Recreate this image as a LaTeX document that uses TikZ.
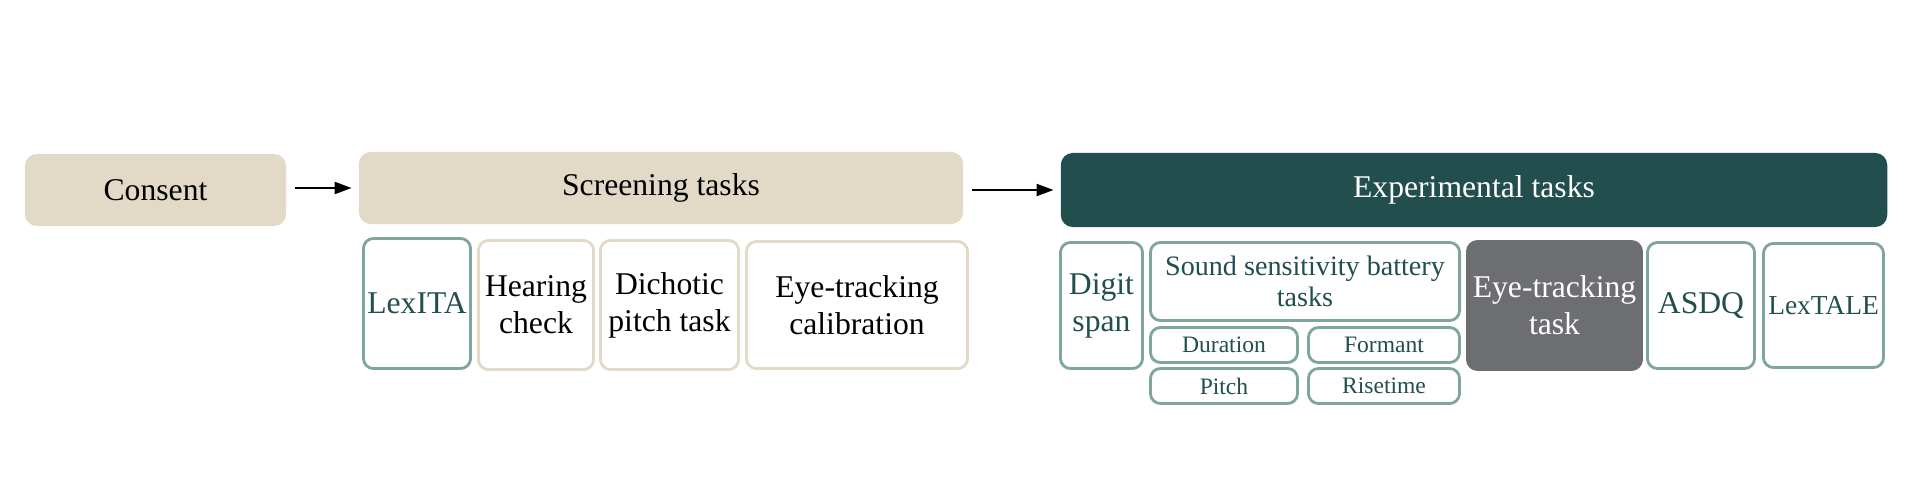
\documentclass[tikz,border=0pt]{standalone}
\usepackage{fontspec}
\setmainfont{Liberation Serif}
\usetikzlibrary{arrows.meta}
\definecolor{sand}{HTML}{E2D9C6}
\definecolor{pine}{HTML}{224E4E}
\definecolor{sage}{HTML}{7FA69A}
\definecolor{slate}{HTML}{6D6E71}
\tikzset{
  phase/.style={rounded corners=0.12cm, fill=sand, inner sep=0pt, font=\fontsize{9}{10.5}\selectfont},
  task/.style={draw=sage, line width=0.8pt, rounded corners=0.1cm, fill=white, inner sep=0pt,
    align=center, text=pine, font=\fontsize{9}{10.5}\selectfont},
  sandtask/.style={task, draw=sand, text=black},
  subtask/.style={task, font=\fontsize{6.7}{8}\selectfont},
  flow/.style={-{Triangle[length=0.17cm,width=0.12cm]}, line width=0.6pt, shorten <=0.085cm, shorten >=0.065cm}
}
\begin{document}
\begin{tikzpicture}[x=0.01cm,y=-0.01cm]
  \fill[white] (0,0) rectangle (1920,500);
  \useasboundingbox (0,0) rectangle (1920,500);
  % phases
  \node[phase, minimum width=2.61cm, minimum height=0.72cm] (consent) at (155.5,190) {Consent};
  \node[phase, minimum width=6.04cm, minimum height=0.72cm] (screen) at (661,188) {Screening tasks};
  \node[phase, fill=pine, text=white, minimum width=8.26cm, minimum height=0.74cm] (exper) at (1474,190) {Experimental tasks};
  \draw[flow] (consent.east |- screen.west) -- (screen.west);
  \draw[flow] (screen.east |- exper.west) -- (exper.west);
  % screening tasks
  \node[task, minimum width=1.07cm, minimum height=1.30cm] (lexita) at (417,303.5) {LexITA};
  \node[sandtask, minimum width=1.15cm, minimum height=1.29cm] (hearing) at (536,305) {Hearing\\check};
  \node[sandtask, minimum width=1.38cm, minimum height=1.29cm] (dichotic) at (669.5,305) {Dichotic\\pitch task};
  \node[sandtask, minimum width=2.21cm, minimum height=1.27cm] (calib) at (857,305) {Eye-tracking\\calibration};
  % experimental tasks
  \node[task, minimum width=0.82cm, minimum height=1.26cm] (digit) at (1101.5,305.5) {Digit\\span};
  \node[task, font=\fontsize{8}{9}\selectfont, minimum width=3.09cm, minimum height=0.78cm] (sound) at (1305,281.5) {Sound sensitivity battery\\tasks};
  \node[subtask, minimum width=1.47cm, minimum height=0.35cm] (duration) at (1224,345) {Duration};
  \node[subtask, minimum width=1.51cm, minimum height=0.35cm] (formant) at (1384,345) {Formant};
  \node[subtask, minimum width=1.47cm, minimum height=0.35cm] (pitch) at (1224,386) {Pitch};
  \node[subtask, minimum width=1.51cm, minimum height=0.35cm] (risetime) at (1384,386) {Risetime};
  \node[task, draw=slate, fill=slate, text=white, minimum width=1.74cm, minimum height=1.28cm] (eyetask) at (1554.5,305.5) {Eye-tracking\\task};
  \node[task, minimum width=1.07cm, minimum height=1.26cm] (asdq) at (1701,305.5) {ASDQ};
  \node[task, font=\fontsize{7.8}{9}\selectfont, minimum width=1.20cm, minimum height=1.24cm] (lextale) at (1823.5,305.5) {LexTALE};
\end{tikzpicture}
\end{document}
